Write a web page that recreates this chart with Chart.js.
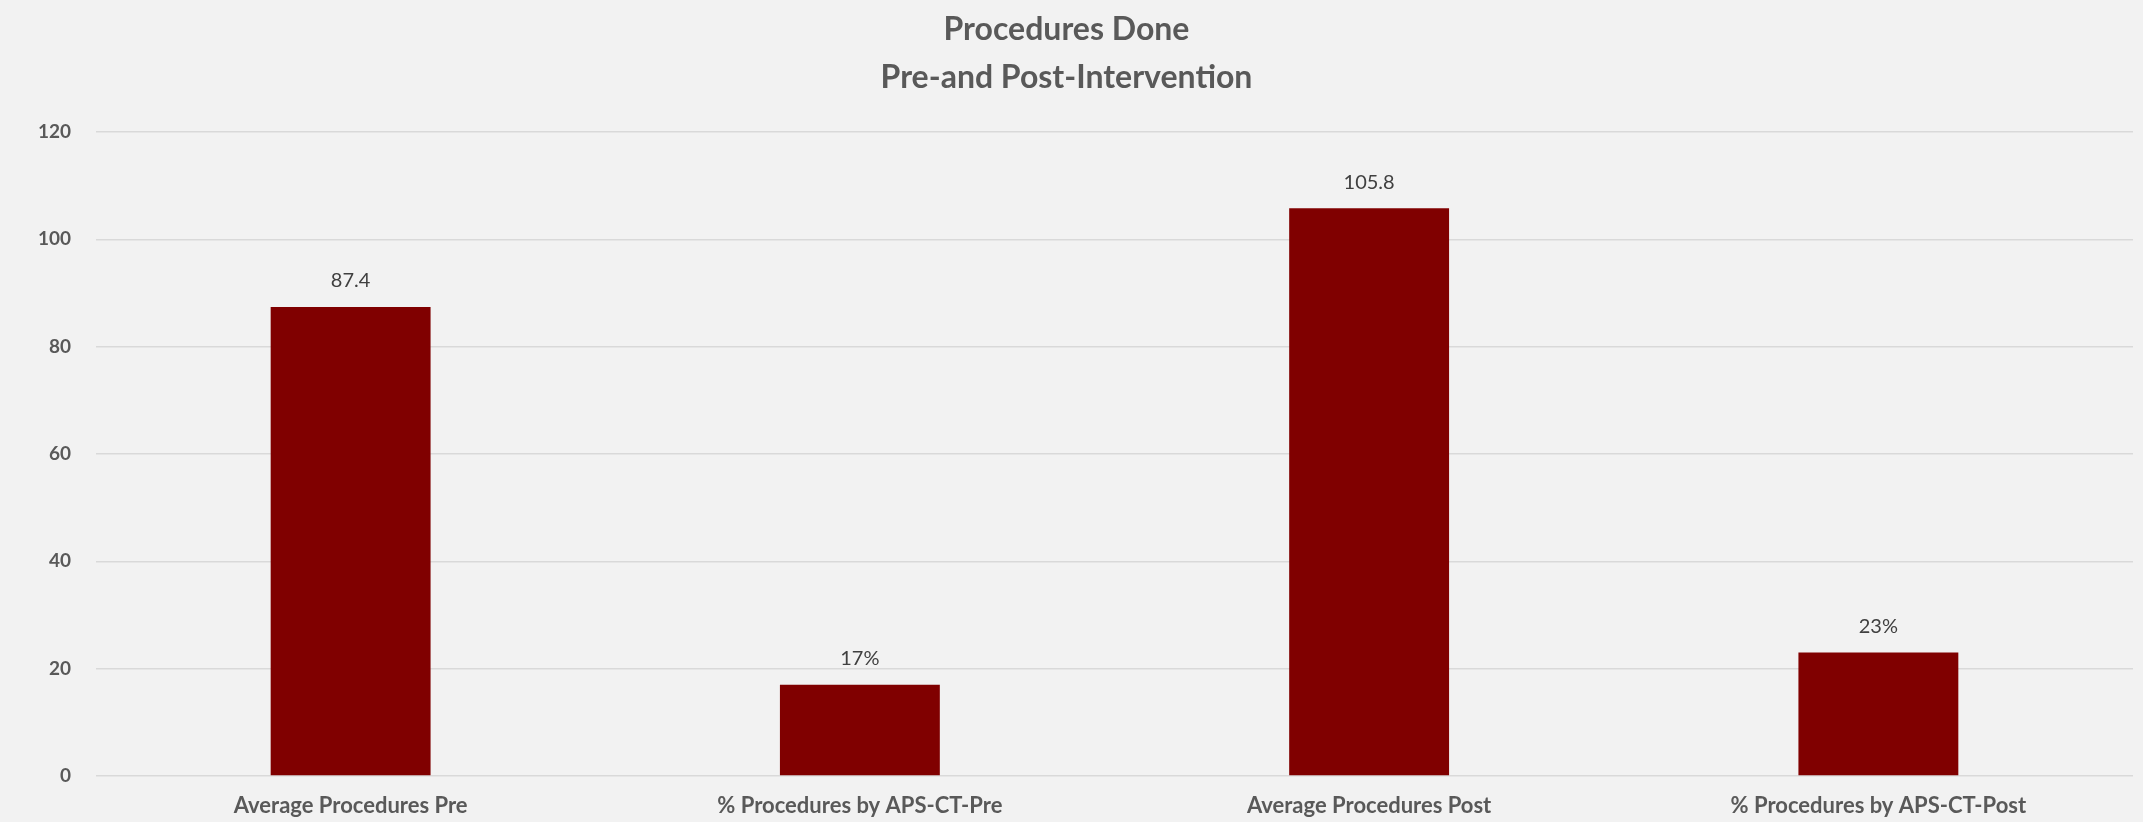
<!DOCTYPE html>
<html>
<head>
<meta charset="utf-8">
<title>Procedures Done</title>
<script src="https://cdn.jsdelivr.net/npm/chart.js@4.4.1/dist/chart.umd.min.js"></script>
<style>
    html, body { margin: 0; padding: 0; background: #f2f2f2; }
    #wrap { width: 2143px; height: 822px; }
</style>
</head>
<body>
<div id="wrap"><canvas id="procChart"></canvas></div>
<script>
// datos
const categorias = ['Average Procedures Pre', '% Procedures by APS-CT-Pre', 'Average Procedures Post', '% Procedures by APS-CT-Post'];
const valores = [87.4, 17, 105.8, 23];
const etiquetas = ['87.4', '17%', '105.8', '23%'];
const ticksY = [0, 20, 40, 60, 80, 100, 120];
const titulo = ['Procedures Done', 'Pre-and Post-Intervention'];

const fuente = 'Lato, "Open Sans", sans-serif';

// etiquetas encima de cada barra
const etiquetasPlugin = {
    id: 'etiquetas',
    afterDatasetsDraw(chart) {
        const ctx = chart.ctx;
        const meta = chart.getDatasetMeta(0);
        ctx.save();
        ctx.font = '20px ' + fuente;
        ctx.fillStyle = '#404040';
        ctx.textAlign = 'center';
        ctx.textBaseline = 'middle';
        meta.data.forEach((bar, i) => {
            ctx.fillText(etiquetas[i], bar.x, bar.y - 26);
        });
        ctx.restore();
    }
};

const ctx = document.getElementById('procChart').getContext('2d');
new Chart(ctx, {
    type: 'bar',
    data: {
        labels: categorias,
        datasets: [{
            data: valores,
            backgroundColor: '#800000',
            borderWidth: 0,
            barPercentage: 0.314,
            categoryPercentage: 1
        }]
    },
    options: {
        responsive: true,
        maintainAspectRatio: false,
        animation: false,
        layout: { padding: { left: 0, right: 10, top: 0, bottom: 0 } },
        plugins: {
            legend: { display: false },
            tooltip: { enabled: false },
            title: {
                display: true,
                text: titulo,
                color: '#595959',
                font: { family: fuente, size: 32, weight: 'bold', lineHeight: 1.5 },
                padding: { top: 6, bottom: 30 }
            }
        },
        scales: {
            x: {
                grid: { display: false },
                border: { display: false },
                ticks: {
                    color: '#595959',
                    font: { family: fuente, size: 22, weight: 'bold' },
                    padding: 9,
                    maxRotation: 0
                },
                afterFit(scale) { scale.height = 46; }
            },
            y: {
                min: 0,
                max: 120,
                afterBuildTicks(scale) { scale.ticks = ticksY.map(v => ({ value: v })); },
                grid: { color: '#d9d9d9', lineWidth: 1.5, drawTicks: false },
                border: { display: false },
                ticks: {
                    color: '#595959',
                    font: { family: fuente, size: 19, weight: 'bold' },
                    padding: 25
                },
                afterFit(scale) { scale.width = 96; }
            }
        }
    },
    plugins: [etiquetasPlugin]
});
</script>
</body>
</html>
